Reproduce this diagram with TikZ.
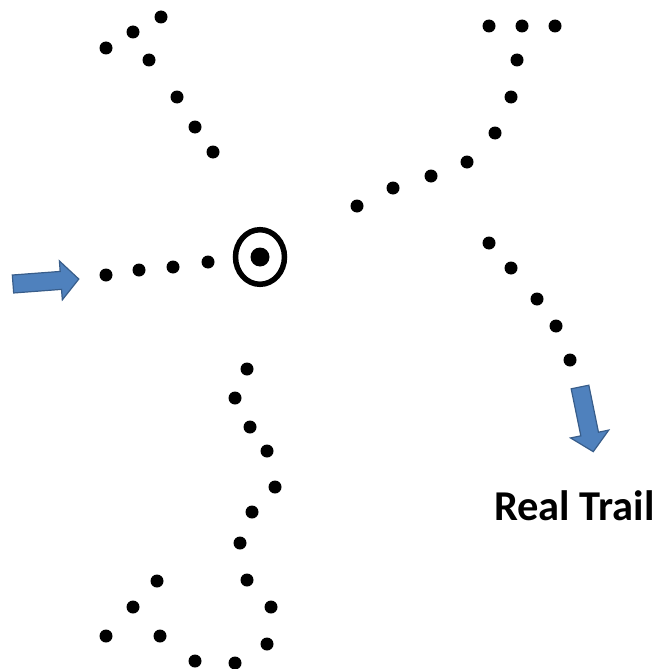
\documentclass[tikz,border=0pt]{standalone}
\usepackage{fontspec}
\setmainfont{Carlito}
\begin{document}
\begin{tikzpicture}[x=1pt,y=-1pt,
  dot/.style={circle,fill=black,inner sep=0pt,minimum size=13pt},
  bluearrow/.style={fill={rgb,255:red,79;green,129;blue,189},draw={rgb,255:red,56;green,93;blue,138},line width=1.2pt,line join=miter}]
\useasboundingbox (0,0) rectangle (664,669);
% dots
\foreach \n/\x/\y in {
  a1/161/17, a2/133/32, a3/106/48, a4/149/60, a5/177/97, a6/195/127, a7/213/152,
  b1/106/275, b2/139/270, b3/173/267, b4/208/262,
  c1/489/26, c2/522/26, c3/555/26, c4/517/60, c5/511/97, c6/495/133, c7/467/162, c8/431/176, c9/393/188, c10/357/206,
  e1/489/243, e2/511/268, e3/537/299, e4/556/326, e5/570/360,
  f1/247/369, f2/235/398, f3/250/427, f4/267/451, f5/275/487, f6/252/512, f7/240/543, f8/247/580, f9/271/607, f10/267/644, f11/235/663, f12/195/661, f13/160/636, f14/106/636, f15/133/607, f16/157/581}
  \node[dot] (\n) at (\x,\y) {};
% target
\node[circle,fill=black,inner sep=0pt,minimum size=19pt] (tc) at (260,257) {};
\draw[line width=5.5pt] (tc.center) ellipse [x radius=24.5, y radius=27.3];
% left arrow
\begin{scope}[shift={(13,284)},rotate=4.3]
\filldraw[bluearrow] (0,-9) -- (48,-9) -- (48,-19.5) -- (66,0) -- (48,19.5) -- (48,9) -- (0,9) -- cycle;
\end{scope}
% down arrow
\begin{scope}[shift={(580,387)},rotate=-78.4]
\filldraw[bluearrow] (0,-9) -- (48,-9) -- (48,-19.5) -- (66,0) -- (48,19.5) -- (48,9) -- (0,9) -- cycle;
\end{scope}
% label
\node[anchor=base west,inner sep=0pt,font=\fontsize{42.5}{46}\selectfont\bfseries] (lbl) at (494,520) {Real Trail};
\end{tikzpicture}
\end{document}
